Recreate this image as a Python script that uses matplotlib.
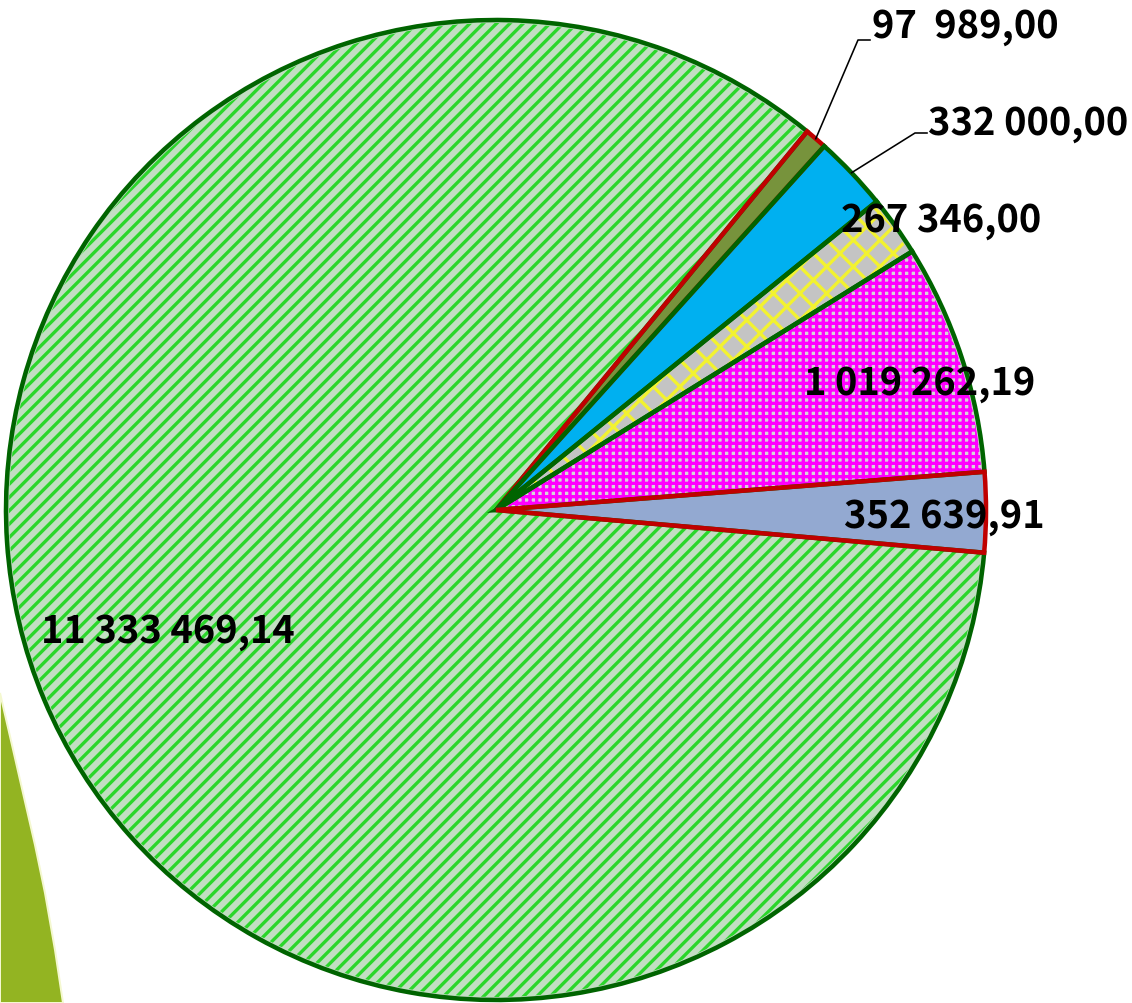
import matplotlib
matplotlib.use("Agg")
import matplotlib.pyplot as plt
from matplotlib.patches import Wedge, Polygon
import numpy as np

W, H = 1132, 1003
DPI = 80  # hatch unit = DPI px, so 80 gives the finer stripes of the original


def pt(px):
    return px * 72.0 / DPI


# data, in the order drawn counterclockwise from the right
labels = ["352 639,91", "1 019 262,19", "267 346,00", "332 000,00", "97  989,00", "11 333 469,14"]
values = [352639.91, 1019262.19, 267346.00, 332000.00, 97989.00, 11333469.14]

face_colors = ["#93A9D1", "#D6D6D6", "#C4C4C4", "#00B0F0", "#77933C", "#C2DEC2"]
hatches = [None, "++", "x", None, None, "//"]
hatch_colors = [None, "#FF00FF", "#F2F230", None, None, "#2BD62B"]
edge_colors = ["#C00000", "#006400", "#006400", "#006400", "#C00000", "#006400"]

# label placement in image pixels (centre x, baseline y)
label_pos = [(944, 528), (920, 395), (941, 232), (1028, 135), (965, 38), (168, 643)]
# elbows of the leader lines (olive and blue slices)
leaders = {4: [(858, 40), (870, 40)], 3: [(915, 133), (927, 133)]}

CENTER = (496, 510)
RADIUS = 490

plt.rcParams["font.family"] = ["Noto Sans CJK KR", "DejaVu Sans"]
plt.rcParams["hatch.linewidth"] = 3.0

fig = plt.figure(figsize=(W / DPI, H / DPI), dpi=DPI)
ax = fig.add_axes([0, 0, 1, 1])

# slide decoration at bottom left
band = [(0, 693), (12, 745), (23, 793), (35, 845), (45, 893), (55, 950), (63, 1003), (0, 1003)]
ax.add_patch(Polygon([(x, H - y) for x, y in band], closed=True,
                     facecolor="#93B422", edgecolor="#F4F8D0", linewidth=pt(2), zorder=0))

wedges, _ = ax.pie(values, startangle=-5, counterclock=True,
                   center=(CENTER[0], H - CENTER[1]), radius=RADIUS,
                   colors=face_colors, wedgeprops=dict(linewidth=0))

for i, w in enumerate(wedges):
    w.set_zorder(1)
    if hatches[i]:
        ax.add_patch(Wedge(w.center, w.r - 3, w.theta1, w.theta2, facecolor="none",
                           edgecolor=hatch_colors[i], linewidth=0, hatch=hatches[i], zorder=2))

# edges: drawn big slice first, last slice on top
for i in range(len(wedges) - 1, -1, -1):
    w = wedges[i]
    ax.add_patch(Wedge(w.center, w.r, w.theta1, w.theta2, fill=False,
                       edgecolor=edge_colors[i], linewidth=pt(4.5),
                       joinstyle="miter", zorder=3 + (len(wedges) - i) * 0.01))

for i, text in enumerate(labels):
    x, y = label_pos[i]
    ax.text(x, H - y, text, ha="center", va="baseline", fontsize=pt(38),
            fontweight="bold", color="black", zorder=5)

for i, pts in leaders.items():
    w = wedges[i]
    mid = np.deg2rad((w.theta1 + w.theta2) / 2)
    x0 = w.center[0] + w.r * np.cos(mid)
    y0 = w.center[1] + w.r * np.sin(mid)
    xs = [x0] + [p[0] for p in pts]
    ys = [y0] + [H - p[1] for p in pts]
    ax.plot(xs, ys, color="black", linewidth=pt(1.6), zorder=4)

ax.set_xlim(0, W)
ax.set_ylim(0, H)
ax.set_aspect("equal")
ax.axis("off")

fig.savefig("out.png", dpi=DPI)
